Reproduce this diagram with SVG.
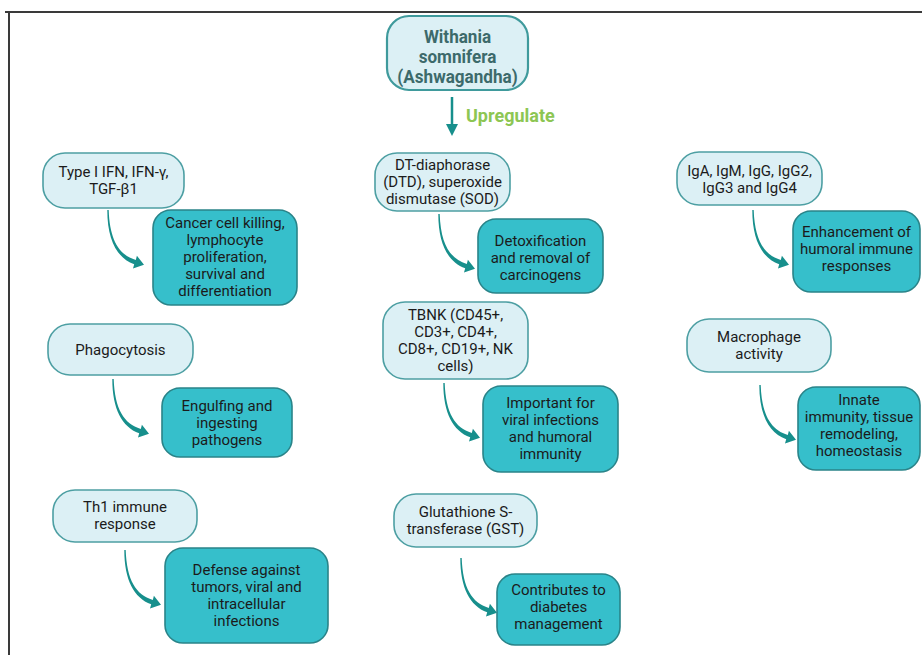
<svg xmlns="http://www.w3.org/2000/svg" width="922" height="655" viewBox="0 0 922 655">
<style>
text{font-family:Roboto,"Liberation Sans",sans-serif;font-size:15px;fill:#1b1b1b;text-anchor:middle}
.lt{fill:#dcf0f5;stroke:#4d9fa3;stroke-width:1.6}
.dk{fill:#36bfcb;stroke:#2a8489;stroke-width:1.6}
.main{fill:#dcf0f5;stroke:#3f9a9c;stroke-width:2.2}
.title{font-weight:bold;font-size:19px;fill:#3c6a6b}
.up{font-weight:bold;font-size:18px;fill:#8dc653;text-anchor:start}
.arr{fill:#178f8c}
</style>
<defs>
<path id="carrow" d="M-0.7,0 C-0.7,30 9,48 26.2,54.3 L25,58.5 L36,54.8 L28.9,45.8 L27.8,49.9 C11,45 1.7,30 0.7,0 Z"/>
<marker id="ah" viewBox="0 0 10 10" refX="2" refY="5" markerWidth="5" markerHeight="5" orient="auto" markerUnits="strokeWidth">
<path d="M0,0 L10,5 L0,10 Z" fill="#178f8c"/>
</marker>
</defs>
<rect width="922" height="655" fill="#ffffff"/>
<path d="M5,12 H922 M9,12 V655" fill="none" stroke="#3a3a3a" stroke-width="2"/>

<g id="root">
<rect class="main" x="387" y="16" width="141" height="74" rx="22"/>
<g transform="scale(0.9,1)">
<text class="title" x="508.33" y="43">Withania</text>
<text class="title" x="508.33" y="63">somnifera</text>
<text class="title" x="508.33" y="83">(Ashwagandha)</text>
</g>
</g>

<g id="connectors">
<line x1="452" y1="97" x2="452" y2="126" stroke="#178f8c" stroke-width="2.5" marker-end="url(#ah)"/>
<text class="up" x="466" y="122">Upregulate</text>
<use href="#carrow" class="arr" transform="translate(108,210)"/>
<use href="#carrow" class="arr" transform="translate(113,379)"/>
<use href="#carrow" class="arr" transform="translate(125,550)"/>
<use href="#carrow" class="arr" transform="translate(439,214)"/>
<use href="#carrow" class="arr" transform="translate(444,383)"/>
<use href="#carrow" class="arr" transform="translate(461,558)"/>
<use href="#carrow" class="arr" transform="translate(753,210)"/>
<use href="#carrow" class="arr" transform="translate(760,385)"/>
</g>

<g id="n-typeI">
<rect class="lt" x="43" y="153" width="141" height="55" rx="22"/>
<text x="113.5" y="177">Type I IFN, IFN-γ,</text>
<text x="113.5" y="194">TGF-β1</text>
</g>
<g id="n-cancer">
<rect class="dk" x="153" y="210" width="144" height="95" rx="18"/>
<text x="225" y="227.5">Cancer cell killing,</text>
<text x="225" y="244.5">lymphocyte</text>
<text x="225" y="261.5">proliferation,</text>
<text x="225" y="278.5">survival and</text>
<text x="225" y="295.5">differentiation</text>
</g>

<g id="n-phago">
<rect class="lt" x="48" y="324" width="145" height="51" rx="22"/>
<text x="120.5" y="354.5">Phagocytosis</text>
</g>
<g id="n-engulf">
<rect class="dk" x="162" y="388" width="130" height="69" rx="18"/>
<text x="227" y="411">Engulfing and</text>
<text x="227" y="428">ingesting</text>
<text x="227" y="445">pathogens</text>
</g>

<g id="n-th1">
<rect class="lt" x="53" y="490" width="144" height="52" rx="22"/>
<text x="125" y="512">Th1 immune</text>
<text x="125" y="529">response</text>
</g>
<g id="n-defense">
<rect class="dk" x="165" y="548" width="163" height="95" rx="18"/>
<text x="246.5" y="575">Defense against</text>
<text x="246.5" y="592">tumors, viral and</text>
<text x="246.5" y="609">intracellular</text>
<text x="246.5" y="626">infections</text>
</g>

<g id="n-dt">
<rect class="lt" x="375" y="153" width="135" height="58" rx="22"/>
<text x="442.5" y="170">DT-diaphorase</text>
<text x="442.5" y="187">(DTD), superoxide</text>
<text x="442.5" y="204">dismutase (SOD)</text>
</g>
<g id="n-detox">
<rect class="dk" x="478" y="219" width="125" height="74" rx="18"/>
<text x="540.5" y="246">Detoxification</text>
<text x="540.5" y="263">and removal of</text>
<text x="540.5" y="280">carcinogens</text>
</g>

<g id="n-tbnk">
<rect class="lt" x="383" y="302" width="145" height="77" rx="22"/>
<text x="455.5" y="320">TBNK (CD45+,</text>
<text x="455.5" y="337">CD3+, CD4+,</text>
<text x="455.5" y="354">CD8+, CD19+, NK</text>
<text x="455.5" y="371">cells)</text>
</g>
<g id="n-important">
<rect class="dk" x="483" y="386" width="135" height="86" rx="18"/>
<text x="550.5" y="408">Important for</text>
<text x="550.5" y="425">viral infections</text>
<text x="550.5" y="442">and humoral</text>
<text x="550.5" y="459">immunity</text>
</g>

<g id="n-gst">
<rect class="lt" x="394" y="494" width="143" height="53" rx="22"/>
<text x="465.5" y="517">Glutathione S-</text>
<text x="465.5" y="534">transferase (GST)</text>
</g>
<g id="n-diabetes">
<rect class="dk" x="497" y="574" width="123" height="71" rx="18"/>
<text x="558.5" y="595">Contributes to</text>
<text x="558.5" y="612">diabetes</text>
<text x="558.5" y="629">management</text>
</g>

<g id="n-ig">
<rect class="lt" x="677" y="152" width="145" height="53" rx="22"/>
<text x="749.5" y="176">IgA, IgM, IgG, IgG2,</text>
<text x="749.5" y="193">IgG3 and IgG4</text>
</g>
<g id="n-humoral">
<rect class="dk" x="793" y="211" width="127" height="81" rx="18"/>
<text x="856.5" y="237">Enhancement of</text>
<text x="856.5" y="254">humoral immune</text>
<text x="856.5" y="271">responses</text>
</g>

<g id="n-macro">
<rect class="lt" x="687" y="319" width="144" height="53" rx="22"/>
<text x="759" y="342">Macrophage</text>
<text x="759" y="359">activity</text>
</g>
<g id="n-innate">
<rect class="dk" x="798" y="387" width="122" height="83" rx="18"/>
<text x="859" y="405">Innate</text>
<text x="859" y="422">immunity, tissue</text>
<text x="859" y="439">remodeling,</text>
<text x="859" y="456">homeostasis</text>
</g>
</svg>
